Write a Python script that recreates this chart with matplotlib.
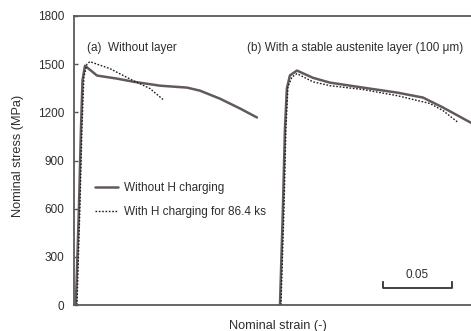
import matplotlib
matplotlib.use('Agg')
import matplotlib.pyplot as plt

plt.rcParams['font.family'] = ['Liberation Sans', 'DejaVu Sans']

line_col = '#625a58'
text_col = '#2e2e2e'

# (a) without layer
strain_a = [0.0014, 0.0036, 0.0051, 0.0062, 0.0080, 0.0116, 0.0167, 0.0312, 0.0428,
            0.0623, 0.0819, 0.0913, 0.1058, 0.1203, 0.1326]
stress_a = [0, 600, 1100, 1400, 1490, 1465, 1429, 1410, 1391, 1366, 1354, 1335, 1285, 1224, 1168]
strain_a_h = [0.0022, 0.0043, 0.0058, 0.0072, 0.0094, 0.0116, 0.0167, 0.0261, 0.0428, 0.0551, 0.0645]
stress_a_h = [0, 600, 1100, 1420, 1500, 1516, 1500, 1472, 1398, 1348, 1280]

# (b) with a stable austenite layer
strain_b = [0.1493, 0.1514, 0.1529, 0.1543, 0.1565, 0.1616, 0.1732, 0.1855, 0.2094,
            0.2341, 0.2529, 0.2674, 0.2877, 0.2950]
stress_b = [0, 600, 1100, 1350, 1430, 1460, 1415, 1385, 1354, 1323, 1292, 1230, 1135, 1100]
strain_b_h = [0.1500, 0.1522, 0.1536, 0.1551, 0.1580, 0.1616, 0.1732, 0.1855, 0.2094,
              0.2341, 0.2580, 0.2674, 0.2783]
stress_b_h = [0, 600, 1100, 1360, 1420, 1441, 1390, 1366, 1342, 1304, 1255, 1211, 1137]

yticks = [0, 300, 600, 900, 1200, 1500, 1800]

fig = plt.figure(figsize=(4.71, 3.31), dpi=100)
ax = fig.add_axes([0.157, 0.0785, 0.843, 0.8732])

ax.plot(strain_a, stress_a, color=line_col, lw=1.8, solid_capstyle='round',
        label='Without H charging')
ax.plot(strain_a_h, stress_a_h, color='#1e1e1e', lw=1.0, ls=(0, (1.2, 1.2)),
        label='With H charging for 86.4 ks')
ax.plot(strain_b, stress_b, color=line_col, lw=1.8, solid_capstyle='round')
ax.plot(strain_b_h, stress_b_h, color='#1e1e1e', lw=1.0, ls=(0, (1.2, 1.2)))

ax.set_xlim(0, 0.2877)
ax.set_ylim(0, 1800)
ax.set_yticks(yticks)
ax.set_xticks([])
ax.tick_params(axis='y', direction='in', length=3, width=1, color='#555555',
               labelsize=8.5, labelcolor=text_col, pad=7)
for side in ['left', 'bottom', 'top']:
    ax.spines[side].set_color('#5a5a5a')
    ax.spines[side].set_linewidth(1.3)
ax.spines['right'].set_visible(False)

ax.text(0.0094, 1602, '(a)  Without layer', fontsize=8.5, color=text_col, va='center')
ax.text(0.1254, 1602, '(b) With a stable austenite layer (100 \u03bcm)', fontsize=8.5,
        color=text_col, va='center')

ax.legend(loc='upper left', bbox_to_anchor=(0.053, 0.424), frameon=False, fontsize=8.5,
          handlelength=1.95, handletextpad=0.5, labelspacing=1.0, labelcolor=text_col,
          borderaxespad=0, borderpad=0)

# scale bar for 0.05 strain
sb_x0, sb_len, sb_y, sb_tick = 0.2239, 0.05, 106, 37
ax.plot([sb_x0, sb_x0, sb_x0 + sb_len, sb_x0 + sb_len],
        [sb_y + sb_tick, sb_y, sb_y, sb_y + sb_tick], color='#333333', lw=1.3)
ax.text(sb_x0 + sb_len / 2, 190, '0.05', ha='center', va='center', fontsize=8.5,
        color=text_col)

fig.text(0.59, 0.016, 'Nominal strain (-)', ha='center', va='center', fontsize=9.2,
         color=text_col)
fig.text(0.038, 0.53, 'Nominal stress (MPa)', ha='center', va='center', rotation=90,
         fontsize=9.2, color=text_col)

fig.savefig('out.png', dpi=100)
